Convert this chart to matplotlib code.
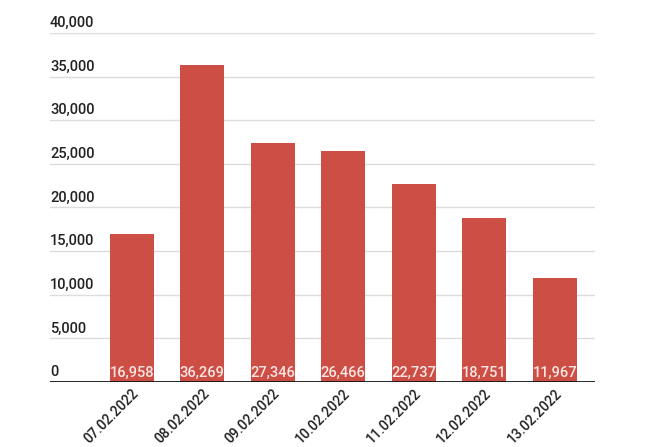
import matplotlib.pyplot as plt
import matplotlib.transforms as mtransforms

plt.rcParams['font.family'] = ['Roboto', 'DejaVu Sans']

dates = ['07.02.2022', '08.02.2022', '09.02.2022', '10.02.2022',
         '11.02.2022', '12.02.2022', '13.02.2022']
values = [16958, 36269, 27346, 26466, 22737, 18751, 11967]
yticks = [0, 5000, 10000, 15000, 20000, 25000, 30000, 35000, 40000]

fig = plt.figure(figsize=(6.7, 4.47), dpi=100)
ax = fig.add_axes([0.0746, 0.1454, 0.8134, 0.781])

x = list(range(len(dates)))
ax.bar(x, values, width=0.63, color='#cc4e45', zorder=2)

# value labels sit at the bottom of each bar
for xi, v in zip(x, values):
    ax.annotate(f'{v:,}', (xi, 0), xytext=(0, 1.5), textcoords='offset points',
                ha='center', va='bottom', color='#fbe6e4', fontsize=10.5,
                fontweight='medium', zorder=3)

ax.set_xlim(-1.16, 6.57)
ax.set_ylim(0, 40000)

trans = mtransforms.blended_transform_factory(ax.transAxes, ax.transData)
for t in yticks:
    if t > 0:
        ax.axhline(t, color='#dcdcdc', linewidth=1, zorder=1)
    ax.annotate(f'{t:,}', (0, t), xycoords=trans, xytext=(0, 2), textcoords='offset points',
                ha='left', va='bottom', color='#222222', fontsize=10.5, fontweight='medium')
ax.axhline(0, color='#111111', linewidth=2, zorder=4)

ax.set_yticks([])
ax.set_xticks(x)
ax.set_xticklabels(dates, rotation=45, ha='right', rotation_mode='anchor',
                   fontsize=10, color='#222222', fontweight='medium')
ax.tick_params(axis='x', length=0, pad=3)
for s in ax.spines.values():
    s.set_visible(False)

fig.savefig('out.png', dpi=100)
